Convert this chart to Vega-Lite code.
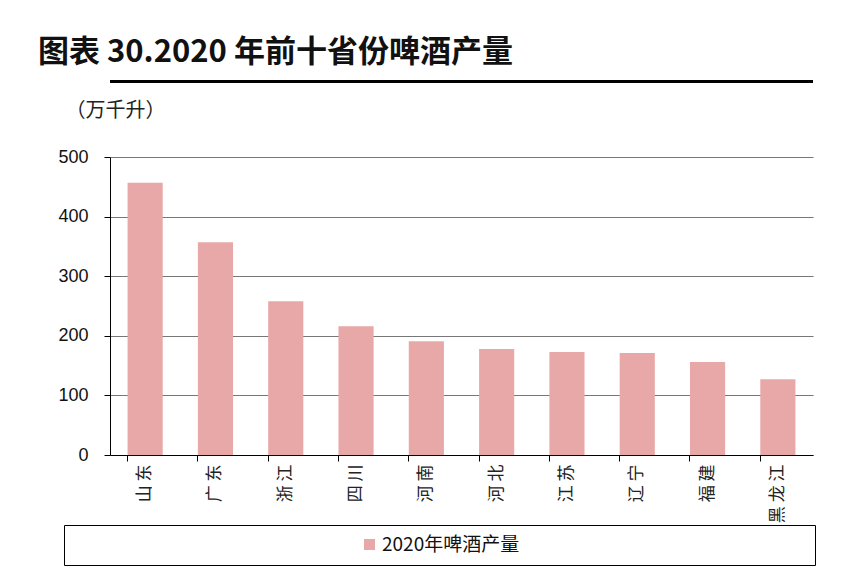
{
  "$schema": "https://vega.github.io/schema/vega-lite/v6.json",
  "autosize": {"type": "none"},
  "padding": {"left": 110, "top": 157, "right": 47, "bottom": 116},
  "width": 703,
  "height": 298,
  "background": "white",
  "title": {
    "text": "图表 30.2020 年前十省份啤酒产量",
    "anchor": "start",
    "frame": "group",
    "dx": -72,
    "offset": 11,
    "font": "Noto Sans CJK SC",
    "fontSize": 31,
    "fontWeight": "bold",
    "color": "#111"
  },
  "data": {
    "values": [
      {"province": "山东", "output": 457},
      {"province": "广东", "output": 357},
      {"province": "浙江", "output": 258},
      {"province": "四川", "output": 216},
      {"province": "河南", "output": 191},
      {"province": "河北", "output": 178},
      {"province": "江苏", "output": 173},
      {"province": "辽宁", "output": 171},
      {"province": "福建", "output": 156},
      {"province": "黑龙江", "output": 127}
    ]
  },
  "layer": [
    {
      "mark": {"type": "bar", "color": "#E8A8A8"},
      "encoding": {
        "x": {
          "field": "province",
          "type": "nominal",
          "sort": null,
          "scale": {"paddingInner": 0.5, "paddingOuter": 0.25},
          "axis": {
            "title": null,
            "labelAngle": -90,
            "labelFont": "Noto Sans CJK SC",
            "labelFontSize": 17,
            "labelColor": "#222",
            "labelPadding": 3,
            "labelExpr": "join(split(datum.label, ''), ' ')",
            "bandPosition": 0,
            "tickSize": 6,
            "tickColor": "black",
            "domainColor": "black",
            "grid": false
          }
        },
        "y": {
          "field": "output",
          "type": "quantitative",
          "scale": {"domain": [0, 500]},
          "axis": {
            "title": "（万千升）",
            "titleAngle": 0,
            "titleAlign": "left",
            "titleBaseline": "middle",
            "titleX": -45,
            "titleY": -47,
            "titleFont": "Noto Sans CJK SC",
            "titleFontSize": 20,
            "titleFontWeight": "normal",
            "titleColor": "#222",
            "values": [0, 100, 200, 300, 400, 500],
            "labelFont": "Liberation Sans",
            "labelFontSize": 18,
            "labelColor": "#111",
            "labelPadding": 16,
            "tickSize": 6,
            "tickColor": "black",
            "domainColor": "black",
            "grid": true,
            "gridColor": "#777",
            "gridWidth": 1
          }
        },
        "color": {
          "datum": "2020年啤酒产量",
          "scale": {"range": ["#E8A8A8"]},
          "legend": {
            "orient": "none",
            "legendX": -46,
            "legendY": 368,
            "padding": 10,
            "strokeColor": "black",
            "symbolType": "square",
            "symbolSize": 121,
            "symbolStrokeWidth": 0,
            "symbolOffset": 286,
            "labelFont": "Noto Sans CJK SC",
            "labelFontSize": 19,
            "labelColor": "#111",
            "labelOffset": 3,
            "title": "\u00a0",
            "titleOrient": "right",
            "titlePadding": 286,
            "titleFontSize": 10
          }
        }
      }
    },
    {
      "mark": {"type": "rule", "color": "black", "strokeWidth": 2.5, "clip": false},
      "encoding": {"y": {"datum": 627}}
    }
  ],
  "config": {
    "view": {"stroke": null},
    "axis": {"labelFont": "Liberation Sans"}
  }
}
